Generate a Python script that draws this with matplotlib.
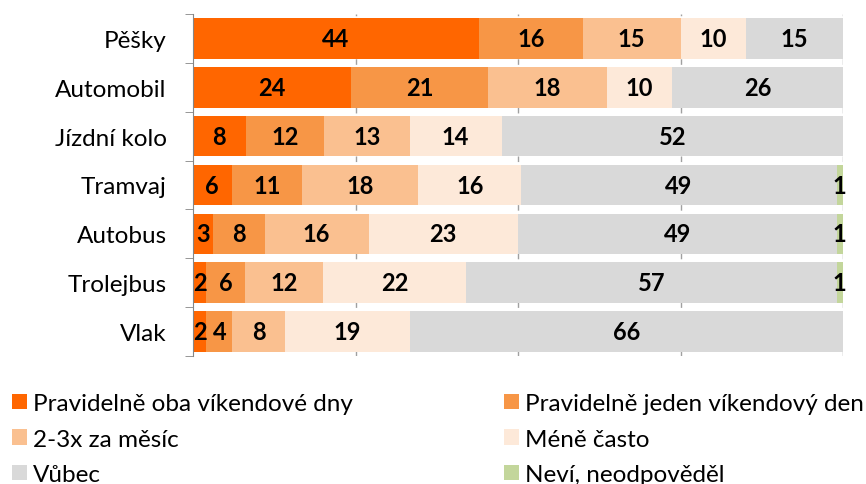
import numpy as np
import matplotlib
matplotlib.use("Agg")
import matplotlib.pyplot as plt
from matplotlib.patches import Patch

plt.rcParams['font.family'] = ['Lato', 'DejaVu Sans']

categories = ["Pěšky", "Automobil", "Jízdní kolo", "Tramvaj", "Autobus", "Trolejbus", "Vlak"]
series_names = ["Pravidelně oba víkendové dny", "Pravidelně jeden víkendový den",
                "2-3x za měsíc", "Méně často", "Vůbec", "Neví, neodpověděl"]
oba = [44, 24, 8, 6, 3, 2, 2]
jeden = [16, 21, 12, 11, 8, 6, 4]
mesic = [15, 18, 13, 18, 16, 12, 8]
mene = [10, 10, 14, 16, 23, 22, 19]
vubec = [15, 26, 52, 49, 49, 57, 66]
nevi = [0, 0, 0, 1, 1, 1, 0]
colors = ["#FF6600", "#F79646", "#FAC090", "#FDE9D9", "#D9D9D9", "#C3D69B"]

data = np.array([oba, jeden, mesic, mene, vubec, nevi], dtype=float)
totals = data.sum(axis=0)
pct = data / totals * 100  # 100% stacked like the original

fig = plt.figure(figsize=(8.66, 4.85), dpi=100)
ax = fig.add_axes([193 / 866, 1 - 357 / 485, 650 / 866, 342 / 485])

y = np.arange(len(categories))
left = np.zeros(len(categories))
for i in range(len(series_names)):
    ax.barh(y, pct[i], left=left, height=0.83, color=colors[i], zorder=2)
    for j in range(len(categories)):
        if data[i, j] > 0:
            ax.text(left[j] + pct[i, j] / 2, y[j], f"{int(data[i, j])}", ha="center", va="center",
                    fontsize=17, fontweight="bold", color="black", zorder=3)
    left += pct[i]

ax.set_xlim(0, 100)
ax.set_ylim(len(categories) - 0.5, -0.5)
ax.set_yticks(y)
ax.set_yticklabels(categories, fontsize=17.5)
ax.set_yticks(np.arange(-0.5, len(categories), 1), minor=True)
ax.tick_params(axis="y", which="major", length=0, pad=19)
ax.tick_params(axis="y", which="minor", length=6, color="#868686")
ax.set_xticks([25, 50, 75, 100])
ax.tick_params(axis="x", length=0, labelbottom=False)
ax.grid(axis="x", color="#A0A0A0", linestyle=(0, (4, 3)), linewidth=1, zorder=1)
for s in ["top", "right", "bottom"]:
    ax.spines[s].set_visible(False)
ax.spines["left"].set_color("#868686")

# legend is filled row by row in the original
order = [0, 2, 4, 1, 3, 5]
handles = [Patch(facecolor=colors[k], edgecolor="none") for k in order]
labels = [series_names[k] for k in order]
fig.legend(handles, labels, loc="upper left", bbox_to_anchor=(12 / 866, 1 - 394 / 485), ncol=2,
           frameon=False, fontsize=17.5, handlelength=0.62, handleheight=0.62, handletextpad=0.25,
           columnspacing=6.2, labelspacing=0.6, borderpad=0, borderaxespad=0)

fig.savefig("out.png", dpi=100)
